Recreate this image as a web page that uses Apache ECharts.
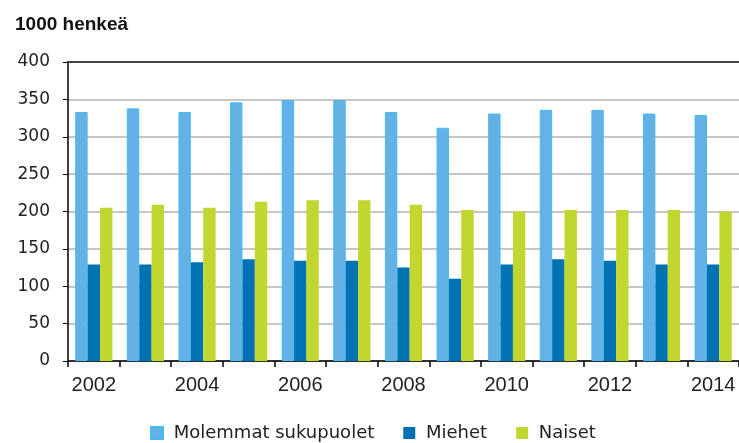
<!DOCTYPE html>
<html>
<head>
<meta charset="utf-8">
<script src="https://cdn.jsdelivr.net/npm/echarts@6/dist/echarts.min.js"></script>
<style>
	html, body { margin: 0; padding: 0; background: #fff; }
	#chart { width: 739px; height: 443px; }
</style>
</head>
<body>
<div id="chart"></div>
<script>
const years = ["2002", "2003", "2004", "2005", "2006", "2007", "2008", "2009", "2010", "2011", "2012", "2013", "2014"];
const molemmat = [333, 338, 333, 346, 349, 349, 333, 312, 331, 336, 336, 331, 329];
const miehet = [129, 129, 132, 136, 134, 134, 125, 110, 129, 136, 134, 129, 129];
const naiset = [205, 209, 205, 213, 215, 215, 209, 202, 200, 202, 202, 202, 200];

const arial = "Liberation Sans, Arial, sans-serif";
const wide = "DejaVu Sans, Verdana, sans-serif";

const chart = echarts.init(document.getElementById("chart"));

chart.setOption({
	animation: false,
	title: {
		text: "1000 henkeä",
		left: 10,
		top: 10,
		textStyle: {
			color: "#111",
			fontWeight: "bold",
			fontSize: 19,
			fontFamily: arial,
		},
	},
	legend: {
		left: 150,
		top: 424,
		padding: 0,
		icon: "rect",
		itemWidth: 12,
		itemHeight: 12,
		itemGap: 29,
		// a leading space widens the gap between the swatch and its label
		formatter: (name) => " " + name,
		textStyle: {
			color: "#222",
			fontSize: 18,
			lineHeight: 18,
			fontFamily: wide,
		},
		data: ["Molemmat sukupuolet", "Miehet", "Naiset"],
	},
	grid: {
		left: 68,
		right: 0,
		top: 62,
		bottom: 82,
	},
	xAxis: [
		{
			type: "category",
			data: years,
			axisLine: { lineStyle: { color: "#000", width: 1.5 } },
			axisTick: { show: true, interval: 0, length: 6, lineStyle: { color: "#000", width: 1.5 } },
			axisLabel: {
				interval: 1,
				margin: 14,
				color: "#222",
				fontSize: 20,
				fontFamily: arial,
			},
		},
		{
			// top frame line
			type: "category",
			position: "top",
			data: years,
			axisLine: { lineStyle: { color: "#444", width: 2 } },
			axisTick: { show: false },
			axisLabel: { show: false },
		},
	],
	yAxis: {
		type: "value",
		min: 0,
		max: 400,
		interval: 50,
		axisLine: { show: true, lineStyle: { color: "#000", width: 1.5 } },
		axisTick: { show: true, length: 5, lineStyle: { color: "#000" } },
		axisLabel: { margin: 18, color: "#222", fontSize: 17, fontFamily: wide },
		splitLine: { lineStyle: { color: "#b4b4b4", width: 1.5 } },
	},
	series: [
		{
			name: "Molemmat sukupuolet",
			type: "bar",
			data: molemmat,
			barGap: "0%",
			barCategoryGap: "28%",
			itemStyle: { color: "#63b1e5", borderColor: "#45baf3", borderWidth: 1 },
		},
		{
			name: "Miehet",
			type: "bar",
			data: miehet,
			itemStyle: { color: "#0072b1" },
		},
		{
			name: "Naiset",
			type: "bar",
			data: naiset,
			itemStyle: { color: "#c1d72f" },
		},
	],
});
</script>
</body>
</html>
